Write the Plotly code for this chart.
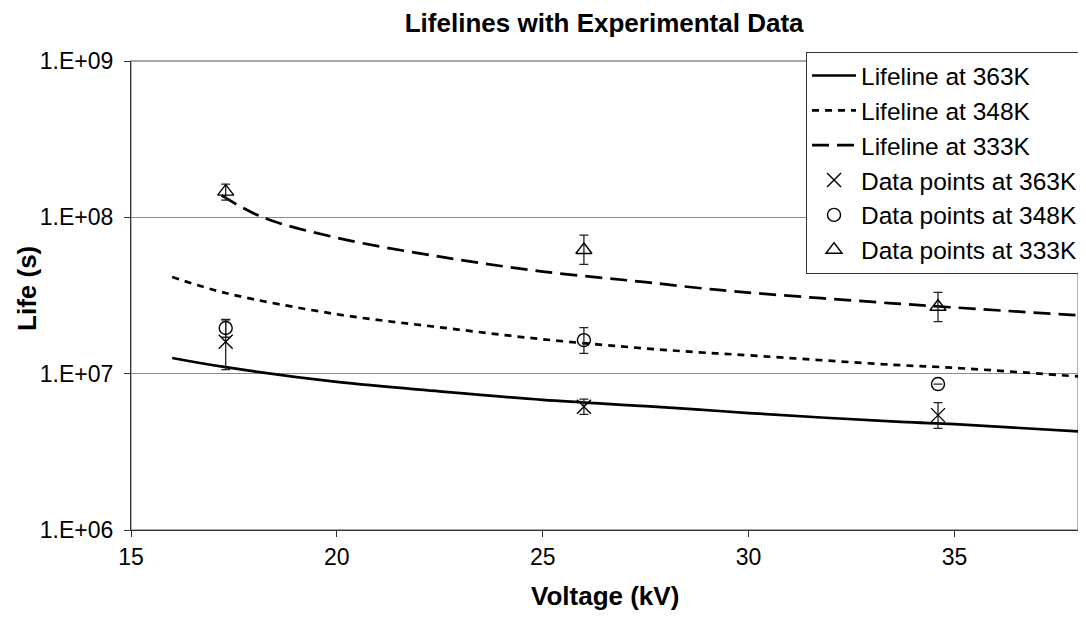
import plotly.graph_objects as go

# ---- Lifelines ----
v_363 = [16.0, 17.3, 20.0, 22.5, 25.0, 27.5, 28.8, 30.0, 33.7, 35.0, 38.0]
life_363 = [1.26e7, 1.10e7, 8.85e6, 7.7e6, 6.8e6, 6.2e6, 5.89e6, 5.6e6, 4.91e6, 4.75e6, 4.28e6]

v_348 = [16.0, 17.3, 20.0, 22.5, 25.0, 27.5, 28.8, 30.0, 33.5, 35.0, 38.0]
life_348 = [4.15e7, 3.28e7, 2.4e7, 1.98e7, 1.66e7, 1.45e7, 1.37e7, 1.31e7, 1.14e7, 1.09e7, 9.6e6]

v_333 = [17.2, 18.2, 20.0, 22.5, 25.0, 27.5, 28.8, 30.0, 33.4, 35.0, 38.0]
life_333 = [1.38e8, 1.0e8, 7.4e7, 5.6e7, 4.5e7, 3.85e7, 3.53e7, 3.3e7, 2.83e7, 2.65e7, 2.36e7]

# ---- Experimental data points ----
v_data = [17.3, 26.0, 34.6]
pts_363 = [1.60e7, 6.14e6, 5.43e6]
err_up_363 = [6.2e6, 0.74e6, 1.09e6]
err_dn_363 = [5.4e6, 0.65e6, 0.96e6]

pts_348 = [1.96e7, 1.64e7, 8.58e6]
err_up_348 = [2.5e6, 3.3e6, 0.0]
err_dn_348 = [2.5e6, 2.9e6, 0.0]

pts_333 = [1.46e8, 6.18e7, 2.68e7]
err_up_333 = [1.7e7, 1.52e7, 6.3e6]
err_dn_333 = [1.7e7, 1.18e7, 5.3e6]

y_tickvals = [1e6, 1e7, 1e8, 1e9]
y_ticktext = ["1.E+06", "1.E+07", "1.E+08", "1.E+09"]

FONT = "Liberation Sans, Arial, sans-serif"

fig = go.Figure()

fig.add_trace(go.Scatter(x=v_363, y=life_363, mode="lines", name="Lifeline at 363K",
                         legendgroup="a", line=dict(color="black", width=2.7, shape="spline")))
fig.add_trace(go.Scatter(x=v_348, y=life_348, mode="lines", name="Lifeline at 348K",
                         legendgroup="b", line=dict(color="black", width=2.7, dash="7px,6px", shape="spline")))
fig.add_trace(go.Scatter(x=v_333, y=life_333, mode="lines", name="Lifeline at 333K",
                         legendgroup="c", line=dict(color="black", width=2.7, dash="17px,8px", shape="spline")))

def err(up, dn):
    return dict(type="data", symmetric=False, array=up, arrayminus=dn,
                color="#222222", thickness=1.3, width=4.5)

fig.add_trace(go.Scatter(x=v_data, y=pts_363, mode="markers", name="Data points at 363K",
                         legendgroup="d",
                         marker=dict(symbol="x-thin-open", size=14, color="black",
                                     line=dict(color="black", width=1.4)),
                         error_y=err(err_up_363, err_dn_363)))
fig.add_trace(go.Scatter(x=v_data, y=pts_348, mode="markers", name="Data points at 348K",
                         legendgroup="e",
                         marker=dict(symbol="circle-open", size=13, color="black",
                                     line=dict(color="black", width=1.4)),
                         error_y=err(err_up_348, err_dn_348)))
fig.add_trace(go.Scatter(x=v_data, y=pts_333, mode="markers", name="Data points at 333K",
                         legendgroup="f",
                         marker=dict(symbol="triangle-up-open", size=14, color="black",
                                     line=dict(color="black", width=1.4)),
                         error_y=err(err_up_333, err_dn_333)))

# figure sits 8px inside the page (default body margin), so size/margins compensate
fig.update_layout(
    width=1078, height=612,
    margin=dict(l=123, r=8, t=53, b=89.5, autoexpand=False),
    paper_bgcolor="white", plot_bgcolor="white",
    font=dict(family=FONT, size=23, color="black"),
    title=dict(text="<b>Lifelines with Experimental Data</b>", x=0.553, xanchor="center",
               y=1 - 15 / 612, yanchor="middle", font=dict(size=26, family=FONT)),
    showlegend=True,
    legend=dict(x=1.0053, xanchor="right", y=1.019, yanchor="top",
                bgcolor="white", bordercolor="#333333", borderwidth=1,
                font=dict(size=24.5, family=FONT), tracegroupgap=0,
                itemwidth=44),
    shapes=[dict(type="rect", xref="paper", yref="paper", x0=0, x1=1, y0=0, y1=1,
                 line=dict(color="#8c8c8c", width=1.3), layer="below")],
    annotations=[
        dict(text="<b>Voltage (kV)</b>", xref="paper", yref="paper", x=0.5, y=-0.1416,
             xanchor="center", yanchor="middle", showarrow=False,
             font=dict(size=26, family=FONT)),
        dict(text="<b>Life (s)</b>", xref="paper", yref="paper", x=-0.1098, y=0.514,
             xanchor="center", yanchor="middle", showarrow=False, textangle=-90,
             font=dict(size=26, family=FONT)),
    ],
)

fig.update_xaxes(range=[15, 38], tick0=15, dtick=5, showgrid=False, zeroline=False,
                 showline=True, linecolor="#333333", linewidth=1.3,
                 ticks="outside", ticklen=6, tickcolor="#333333",
                 tickfont=dict(size=23), automargin=False)
fig.update_yaxes(type="log", range=[6, 9], tickvals=y_tickvals, ticktext=y_ticktext,
                 showgrid=True, gridcolor="#8c8c8c", gridwidth=1.3, zeroline=False,
                 showline=True, linecolor="#333333", linewidth=1.3,
                 ticks="outside", ticklen=6, tickcolor="#333333",
                 tickfont=dict(size=23), ticklabelstandoff=6, automargin=False)

fig.write_html("out.html")
